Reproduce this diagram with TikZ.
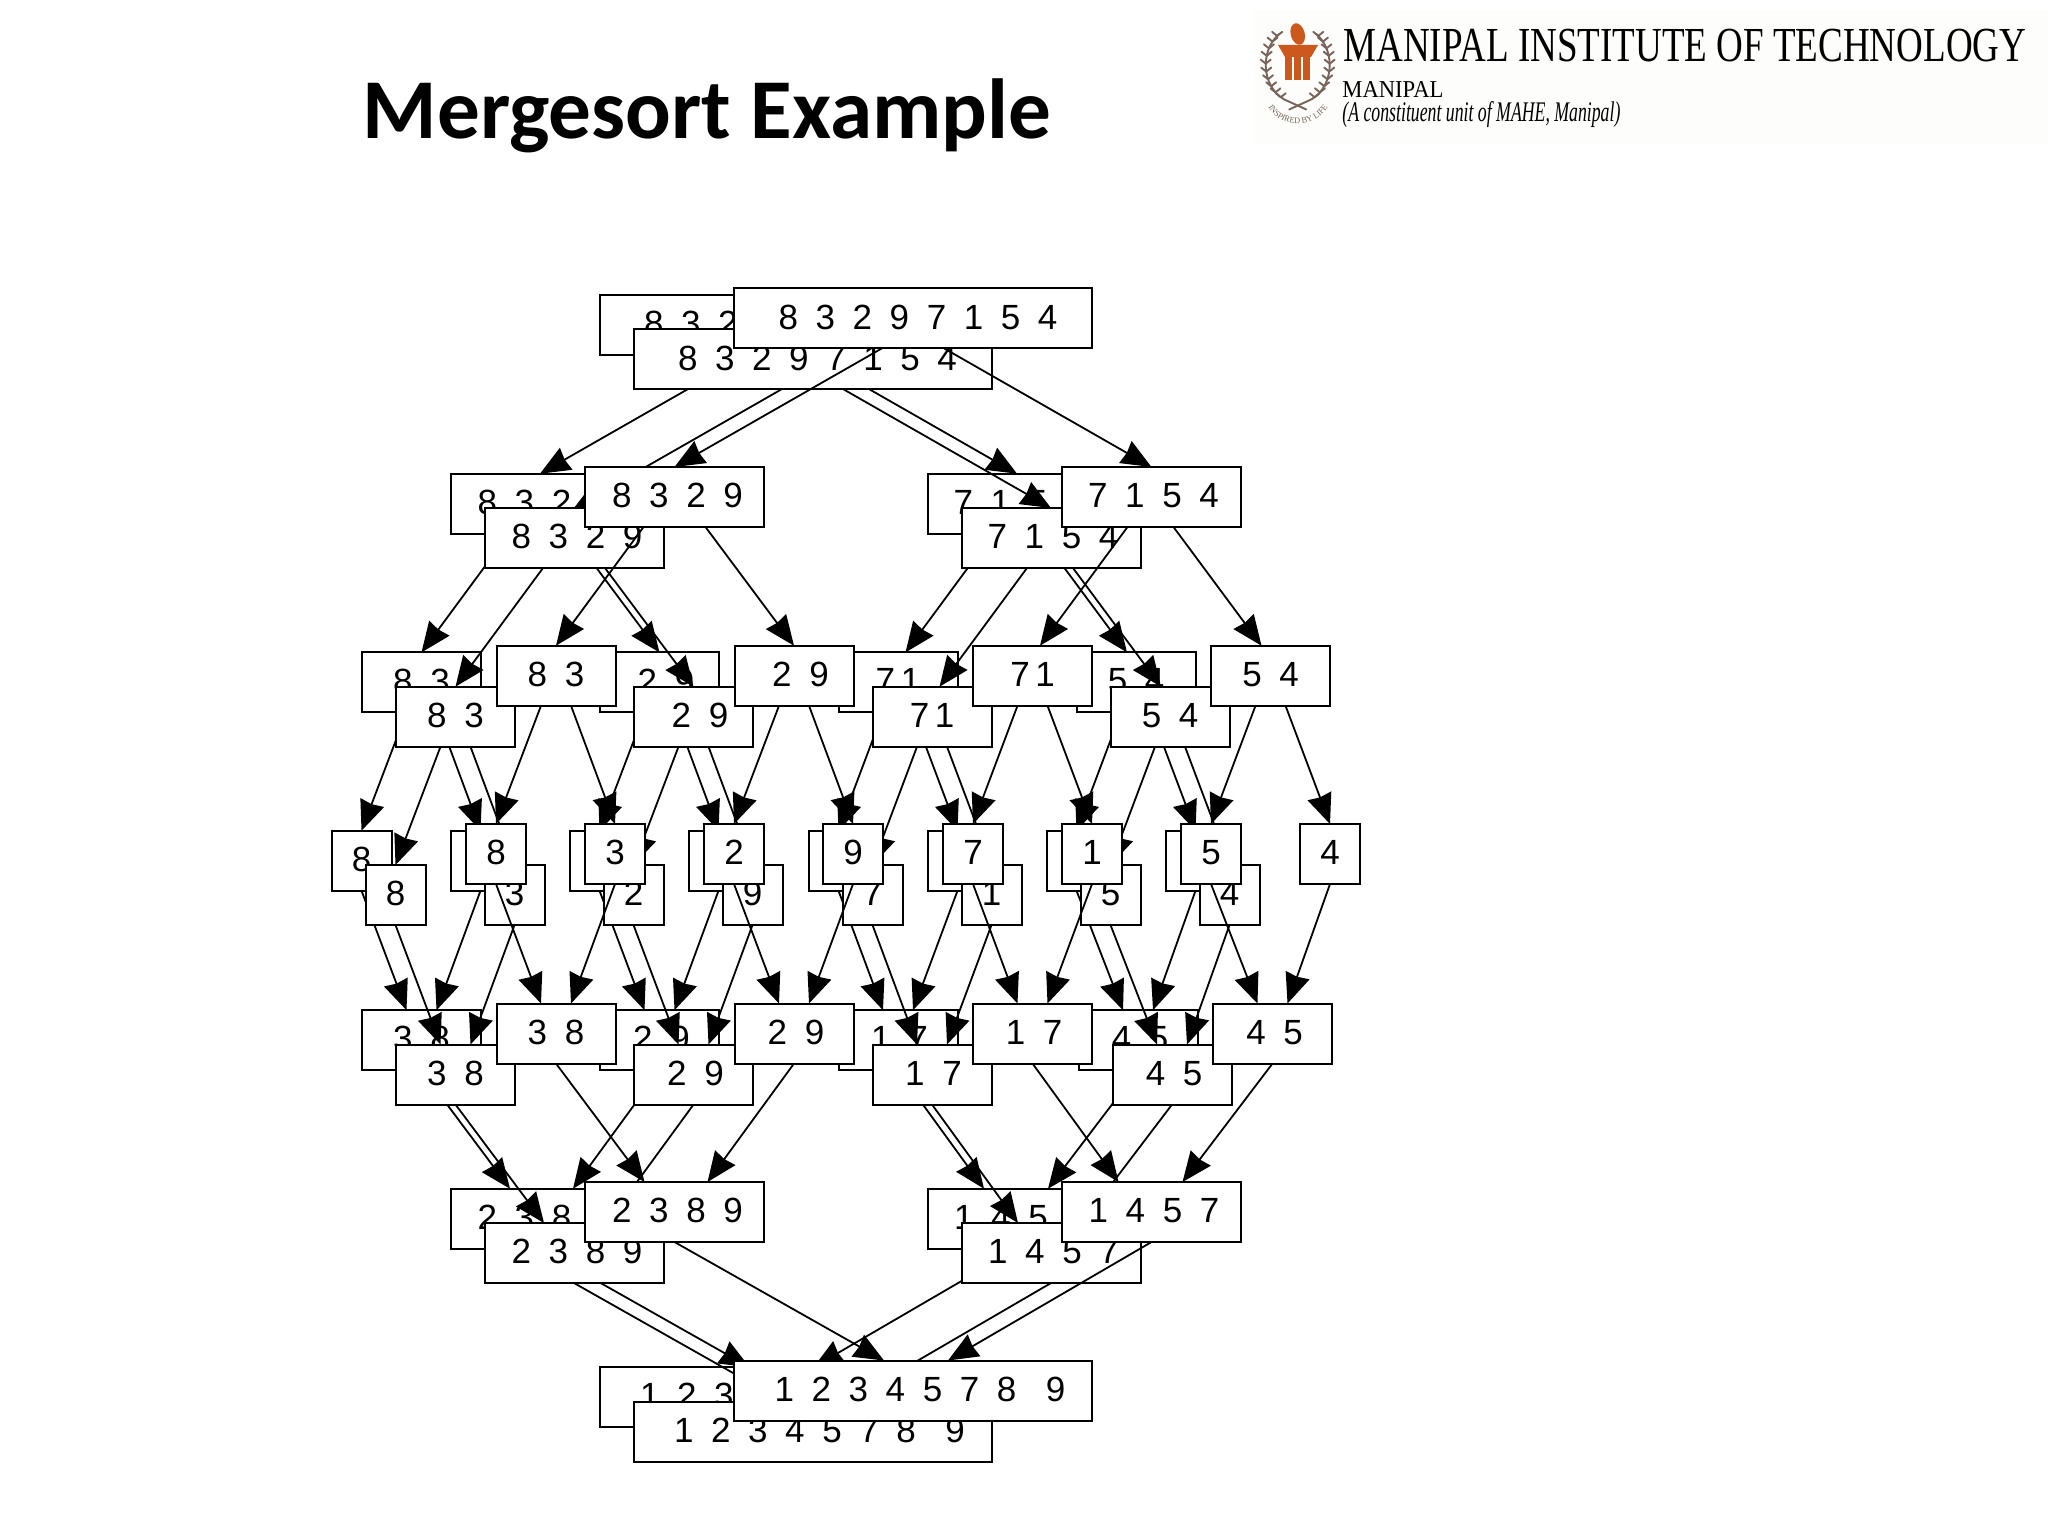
\documentclass[tikz,border=0pt]{standalone}
\usepackage{fontspec}
\usepackage{tikz}
\usetikzlibrary{arrows.meta, decorations.text}
\newfontfamily\boxfont{Liberation Sans}
\newfontfamily\titlefont{Carlito}
\newfontfamily\logofont{Liberation Serif}
\definecolor{emblemorange}{RGB}{205, 88, 30}
\definecolor{wreathbrown}{RGB}{120, 100, 90}
\definecolor{logopaper}{RGB}{253, 253, 251}
\newcommand{\digitfont}{\boxfont\fontsize{17.5}{21}\selectfont\spaceskip=8.8pt\relax}
\tikzset{
    numbox/.style={draw, fill=white, line width=1pt, inner sep=0pt, outer sep=0pt, minimum height=30pt, text depth=1.5pt, font=\digitfont},
    widebox/.style={numbox, minimum width=179pt},
    halfbox/.style={numbox, minimum width=89.5pt},
    pairbox/.style={numbox, minimum width=59.5pt},
    leafbox/.style={numbox, minimum width=30pt},
    edge/.style={line width=0.9pt, -{Stealth[length=15pt, width=12.5pt, inset=0.8pt]}},
    leaf/.style={line width=0.95pt, line cap=round, wreathbrown}
}
% one full copy of the tree: name prefix, shift
\newcommand{\mergecopy}[3]{
    \begin{scope}[shift={(#2,#3)}]
        % Splitting half
        \node[widebox] (#1top) at (913,318.3) {\kern5pt 8 3 2 9 7 1 5 4};
        \foreach \nm/\px/\txt in {sl/674.5/{\kern3pt 8 3 2 9}, sr/1151.5/{\kern2pt 7 1 5 4}}
            \node[halfbox] (#1\nm) at (\px,497) {\txt};
        \foreach \nm/\px/\txt in {sll/556/{8 3}, slr/794/{\kern6.5pt 2 9}, srl/1032.5/{7\kern-6pt\ 1}, srr/1270.5/{5 4}}
            \node[pairbox] (#1\nm) at (\px,675.7) {\txt};
        % Single values
        \foreach \nm/\px/\txt in {e1/496/8, e2/615/3, e3/734/2, e4/853/9, e5/973/7, e6/1092/1, e7/1211/5, e8/1330/4}
            \node[leafbox] (#1\nm) at (\px,854) {\txt};
        % Merging half
        \foreach \nm/\px/\txt in {mll/556/{3 8}, mlr/794/{\kern2pt 2 9}, mrl/1032.5/{\kern1.5pt 1 7}, mrr/1272.5/{\kern2pt 4 5}}
            \node[pairbox] (#1\nm) at (\px,1033.5) {\txt};
        \foreach \nm/\px/\txt in {ml/674.5/{\kern3pt 2 3 8 9}, mr/1151.5/{\kern2.5pt 1 4 5 7}}
            \node[halfbox] (#1\nm) at (\px,1212) {\txt};
        \node[widebox] (#1end) at (913,1390.5) {\kern7pt 1 2 3 4 5 7 8\kern6pt\ 9};

        \foreach \from/\to/\off/\tip in {top/sl/-15.5/0, top/sr/15.5/0, sl/sll/-15.5/0, sl/slr/15.5/0, sr/srl/-12/3.75, sr/srr/11/-4.5,
            sll/e1/-7.5/0, sll/e2/7.5/0, slr/e3/-7.5/0, slr/e4/7.5/0, srl/e5/-7.5/0, srl/e6/7.5/0, srr/e7/-7.5/0, srr/e8/7.5/0,
            e1/mll/0/-7.5, e2/mll/0/7.5, e3/mlr/0/-7.5, e4/mlr/0/7.5, e5/mrl/0/-7.5, e6/mrl/0/7.5, e7/mrr/0/-7.5, e8/mrr/0/7.5,
            mll/ml/0/-15, mlr/ml/0/16.5, mrl/mr/0/-16.5, mrr/mr/0/15.5, ml/end/0/-14.5, mr/end/0/17.5}
            \draw[edge] ([xshift=\off pt]#1\from.south) -- ([xshift=\tip pt]#1\to.north);
    \end{scope}
}

\begin{document}
\begin{tikzpicture}[x=0.5pt, y=-0.5pt]
    \path[use as bounding box, fill=white] (0,0) rectangle (2048,1536);

    \node[anchor=base, font=\titlefont\bfseries\fontsize{42.6}{50}\selectfont] (title) at (707,138) {Mergesort Example};

    % Logo
    \fill[logopaper] (1255,10) rectangle (2048,145);
    \node[anchor=west, inner sep=0pt, font=\logofont] (logoname) at (1343,46) {\resizebox{341.5pt}{16.2pt}{MANIPAL INSTITUTE OF TECHNOLOGY}};
    \node[anchor=west, inner sep=0pt, font=\logofont] (logoplace) at (1342,89.5) {\resizebox{50.5pt}{8pt}{MANIPAL}};
    \node[anchor=west, inner sep=0pt, font=\logofont\itshape] (logounit) at (1342,115) {\resizebox{139pt}{10pt}{(A constituent unit of MAHE, Manipal)}};
    \fill[emblemorange, rotate around={15:(1297.7,34)}] (1297.7,34) ellipse (7 and 11);
    \fill[emblemorange] (1278,45) -- (1318,45) -- (1311,57) -- (1285,57) -- cycle;
    \foreach \cx in {1285,1294,1303}
        \fill[emblemorange] (\cx,55) rectangle (\cx+7,80);
    \foreach \side in {1,-1} {
        \draw[leaf] plot[domain=-55:65, samples=16] ({1297.7+\side*32*cos(\x)},{65+38*sin(\x)}) -- ++(-\side*22,10);
        \foreach \a in {-50,-38,...,60} {
            \draw[leaf] ({1297.7+\side*32*cos(\a)},{65+38*sin(\a)}) -- ++(\side*5,-4);
            \draw[leaf] ({1297.7+\side*32*cos(\a)},{65+38*sin(\a)}) -- ++(-\side*5,-4);
        }
    }
    \path[decorate, decoration={text along path, text align=center, text={|\logofont\fontsize{4.2}{5}\selectfont\color{wreathbrown}|INSPIRED BY LIFE}}]
        (1264,99) .. controls (1276,132) and (1320,132) .. (1332,99);

    % Back, middle and front copies
    \mergecopy{back}{-134.5}{6.7}
    \mergecopy{mid}{-100.5}{41}
    \mergecopy{front}{0}{0}
\end{tikzpicture}
\end{document}
